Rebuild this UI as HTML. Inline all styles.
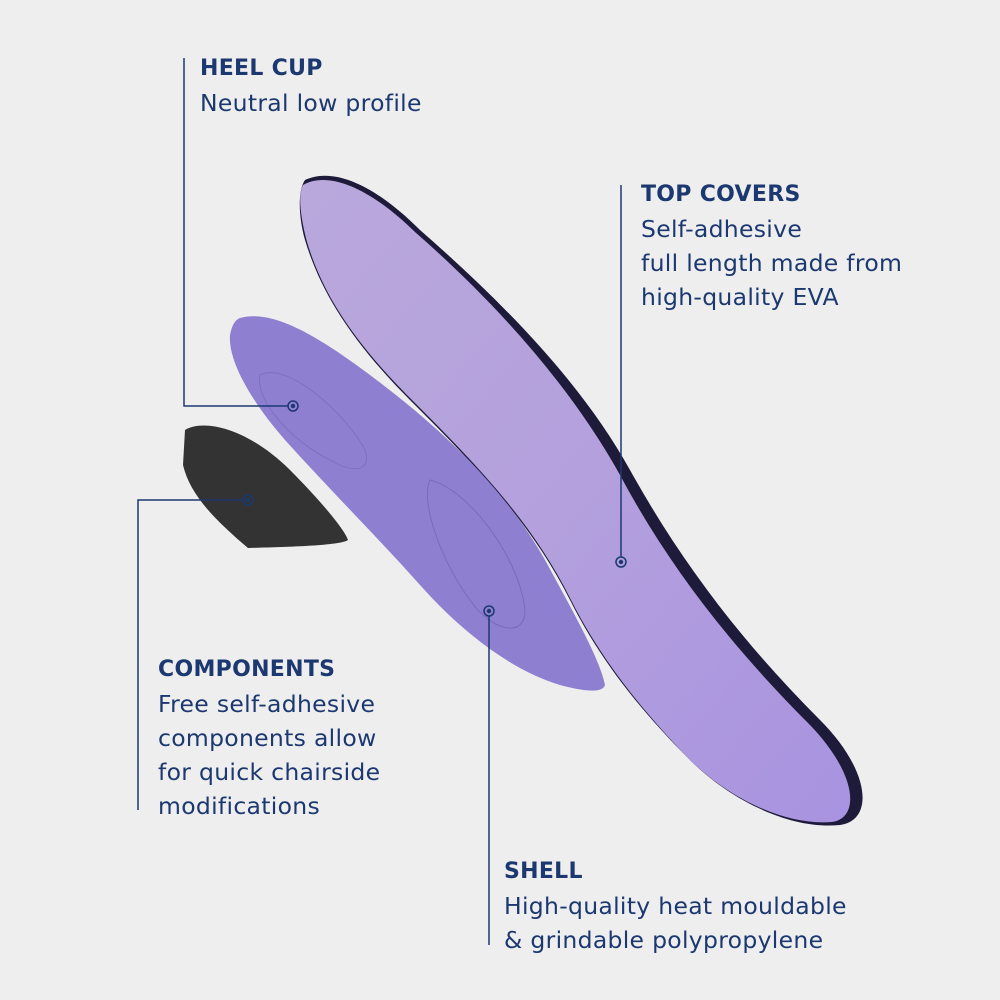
<!DOCTYPE html>
<html><head><style>
body{margin:0;background:#eeeeee;}
.w{position:relative;width:1000px;height:1000px;background:#eeeeee;font-family:"DejaVu Sans",sans-serif;color:#1c3870;overflow:hidden}
.t{position:absolute;font-size:23.5px;line-height:34px;letter-spacing:0.3px;white-space:nowrap}
.t b{font-size:22px;font-weight:bold;letter-spacing:0.3px}
svg{position:absolute;left:0;top:0}
</style></head><body><div class="w">
<svg width="1000" height="1000">
<defs>
<linearGradient id="tc" x1="0" y1="0" x2="1" y2="1"><stop offset="0" stop-color="#b9a8dc"/><stop offset="0.5" stop-color="#b3a0dd"/><stop offset="1" stop-color="#a893e0"/></linearGradient>
</defs>
<path d="M305,180 C330,168 370,180 420,230 C500,300 580,380 630,470 C680,560 740,640 820,720 C870,770 875,820 840,825 C790,830 730,800 690,760 C640,710 600,660 570,600 C530,520 470,460 410,400 C350,340 320,290 305,240 C298,215 298,190 305,180 Z" fill="#1e1a3a"/>
<path d="M303,185 C325,172 365,183 415,232 C495,302 570,385 620,475 C668,565 730,645 810,725 C858,775 860,818 832,822 C785,826 728,798 688,758 C640,708 600,658 570,598 C530,518 470,458 410,398 C352,340 322,292 307,242 C300,215 298,195 303,185 Z" fill="url(#tc)"/>
<path d="M240,318 C270,310 310,330 370,375 C430,420 500,480 545,560 C575,615 600,660 605,685 C603,692 590,693 560,685 C510,670 460,630 420,585 C380,540 330,490 285,440 C250,400 228,360 230,335 C232,325 235,320 240,318 Z" fill="#8e7fd0"/>
<path d="M260,375 C290,360 350,420 365,450 C372,470 355,475 330,460 C290,440 255,400 260,375 Z" fill="none" stroke="#8070c4" stroke-width="1"/>
<path d="M430,480 C470,490 520,560 525,610 C525,640 490,630 470,600 C440,560 420,500 430,480 Z" fill="none" stroke="#7a6bc0" stroke-width="1"/>
<path d="M185,430 C205,418 250,430 290,470 C320,500 345,530 348,540 C340,546 280,547 248,548 C215,520 190,495 183,465 Z" fill="#333333"/>
<g stroke="#1c3870" stroke-width="1.5" fill="none">
<polyline points="184,58 184,406 288,406"/>
<polyline points="243,500 138,500 138,810"/>
<line x1="489" y1="616" x2="489" y2="945"/>
<line x1="621" y1="557" x2="621" y2="185"/>
<circle cx="293" cy="406" r="5"/><circle cx="248" cy="500" r="5"/><circle cx="489" cy="611" r="5"/><circle cx="621" cy="562" r="5"/>
</g>
<g fill="#1c3870"><circle cx="293" cy="406" r="2.2"/><circle cx="248" cy="500" r="2.2"/><circle cx="489" cy="611" r="2.2"/><circle cx="621" cy="562" r="2.2"/></g>
</svg>
<div class="t" style="left:200px;top:50px"><b>HEEL CUP</b><br>Neutral low profile</div>
<div class="t" style="left:641px;top:176px"><b>TOP COVERS</b><br>Self-adhesive<br>full length made from<br>high-quality EVA</div>
<div class="t" style="left:158px;top:651px"><b>COMPONENTS</b><br>Free self-adhesive<br>components allow<br>for quick chairside<br>modifications</div>
<div class="t" style="left:504px;top:853px"><b>SHELL</b><br>High-quality heat mouldable<br>&amp; grindable polypropylene</div>
</div></body></html>
